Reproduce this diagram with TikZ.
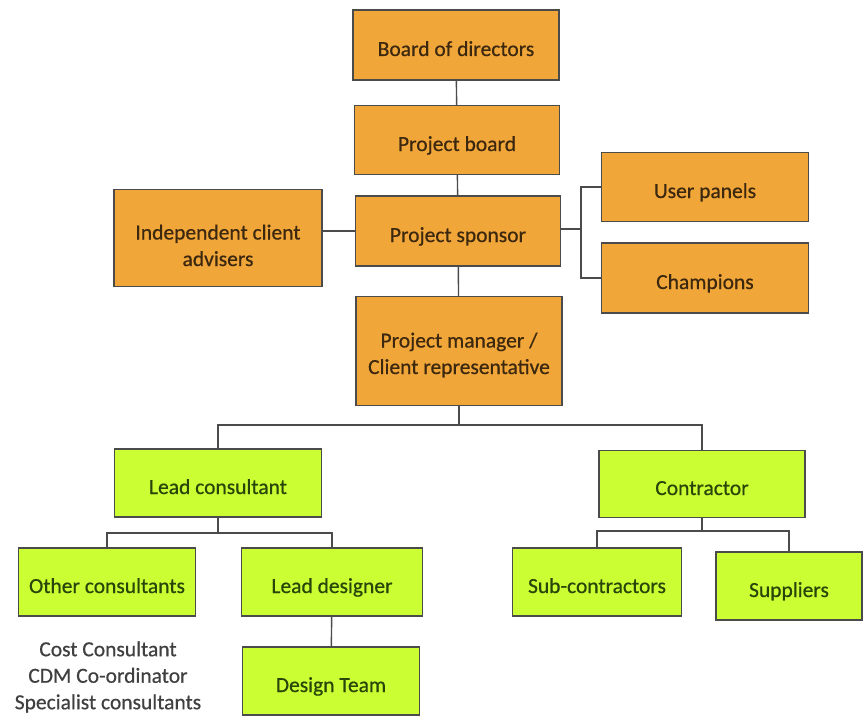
\documentclass[tikz,border=0pt]{standalone}
\usepackage{fontspec}
\setmainfont{Carlito}
\newfontfamily\boxfont[FakeBold=0.6]{Carlito}
\usepackage{tikz}
\usetikzlibrary{positioning,calc}

\definecolor{orgfill}{RGB}{241,166,58}
\definecolor{orgtext}{RGB}{60,40,15}
\definecolor{grnfill}{RGB}{204,255,51}
\definecolor{grntext}{RGB}{40,70,10}
\definecolor{linegray}{RGB}{75,75,75}

\begin{document}
\begin{tikzpicture}[x=1pt, y=-1pt,
  box/.style={rectangle, draw=linegray, line width=1.4pt, align=center, inner sep=2pt,
    text height=22pt, text depth=0pt, font=\boxfont\fontsize{21.5}{26.5}\selectfont},
  obox/.style={box, fill=orgfill, text=orgtext},
  gbox/.style={box, fill=grnfill, text=grntext},
  link/.style={draw=linegray, line width=1.4pt}]
  \useasboundingbox (0,0) rectangle (864,717);
  % client side
  \node[obox, minimum width=206pt, minimum height=70pt] (bod) at (456,45) {Board of directors};
  \node[obox, minimum width=205pt, minimum height=69pt] (pb) at (457,140) {Project board};
  \node[obox, minimum width=205pt, minimum height=70pt] (ps) at (458,231) {Project sponsor};
  \node[obox, minimum width=208pt, minimum height=97pt, text height=56pt] (ica) at (218,238) {Independent client\\advisers};
  \node[obox, minimum width=207pt, minimum height=69pt] (up) at (705,187) {User panels};
  \node[obox, minimum width=207pt, minimum height=70pt] (ch) at (705,278) {Champions};
  \node[obox, minimum width=206pt, minimum height=109pt, text height=46pt] (pm) at (459,351) {Project manager /\\Client representative};
  % supply side
  \node[gbox, minimum width=207pt, minimum height=68pt] (lc) at (218,483) {Lead consultant};
  \node[gbox, minimum width=206pt, minimum height=67pt] (con) at (702,484) {Contractor};
  \node[gbox, minimum width=177pt, minimum height=68pt] (oc) at (107,582) {Other consultants};
  \node[gbox, minimum width=181pt, minimum height=68pt] (ld) at (332,582) {Lead designer};
  \node[gbox, minimum width=177pt, minimum height=68pt] (dt) at (331,681) {Design Team};
  \node[gbox, minimum width=169pt, minimum height=68pt] (sc) at (597,582) {Sub-contractors};
  \node[gbox, minimum width=146pt, minimum height=68pt] (sup) at (789,586) {Suppliers};
  \node[align=center, text=black!75, font=\boxfont\fontsize{21.5}{26.5}\selectfont] (notes) at (108,677)
    {Cost Consultant\\CDM Co-ordinator\\Specialist consultants};
  % connectors
  \draw[link] (bod) -- (pb) -- (ps) -- (pm);
  \draw[link] (ps.west) -- (ps.west -| ica.east);
  \coordinate (br) at (581,229);
  \draw[link] (ps.east |- br) -- (br);
  \draw[link] (up.west) -| (br) |- (ch.west);
  \coordinate (bus) at (459,425);
  \draw[link] (pm.south) -- (bus);
  \draw[link] (lc.north) |- (bus) -| (con.north);
  \coordinate (lcbus) at (218,533);
  \draw[link] (lc.south) -- (lcbus);
  \draw[link] (oc.north) |- (lcbus) -| (ld.north);
  \draw[link] (ld) -- (dt);
  \coordinate (conbus) at (702,531);
  \draw[link] (con.south) -- (conbus);
  \draw[link] (sc.north) |- (conbus) -| (sup.north);
\end{tikzpicture}
\end{document}
